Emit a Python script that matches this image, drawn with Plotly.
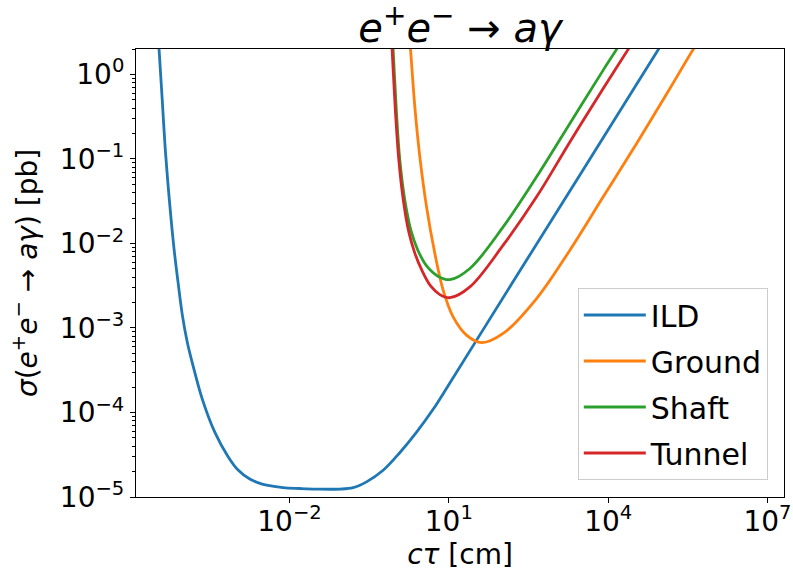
import plotly.graph_objects as go

# ---- data (ctau in cm, sigma in pb) ----
ctau_ild = [2.97e-5, 3.50e-5, 4.02e-5, 4.58e-5, 5.45e-5, 6.71e-5, 7.98e-5, 9.66e-5, 1.19e-4,
            1.53e-4, 2.28e-4, 3.92e-4, 6.89e-4, 1.063e-3, 1.79e-3, 2.53e-3, 3.69e-3, 7.57e-3,
            1.56e-2, 3.22e-2, 8.85e-2, 0.158, 0.282, 0.579, 1.19, 2.47, 5.06, 9.70, 33.3,
            316.0, 3162.0, 3.16e4, 3.16e5]
sigma_ild = [10.0, 1.98, 0.497, 0.131, 0.0334, 8.57e-3, 3.46e-3, 1.39e-3, 6.79e-4,
             3.56e-4, 1.44e-4, 5.85e-5, 3.04e-5, 2.10e-5, 1.63e-5, 1.48e-5, 1.38e-5, 1.29e-5,
             1.26e-5, 1.24e-5, 1.24e-5, 1.29e-5, 1.51e-5, 2.07e-5, 3.34e-5, 5.85e-5, 1.09e-4, 2.07e-4, 7.18e-4,
             6.90e-3, 6.98e-2, 0.706, 7.14]

ctau_ground = [1.563, 1.900, 2.289, 2.844, 3.802, 5.45, 7.81, 12.05, 21.5, 41.3,
               105.4, 448.7, 1901.0, 8054.0, 3.43e4, 1.452e5, 3.99e5, 1.585e6]
sigma_ground = [10.0, 1.98, 0.414, 0.1059, 0.0271, 7.62e-3, 2.80e-3, 1.35e-3, 8.22e-4, 6.70e-4,
                8.61e-4, 2.23e-3, 8.33e-3, 0.0356, 0.1526, 0.683, 1.98, 7.94]

ctau_shaft = [0.778, 0.893, 1.026, 1.194, 1.484, 1.925, 2.608, 3.853, 6.21, 10.44,
              24.9, 105.4, 448.7, 1901.0, 8054.0, 1.439e4, 6.31e4]
sigma_shaft = [10.0, 1.98, 0.378, 0.0968, 0.0325, 0.01436, 8.32e-3, 5.38e-3, 4.10e-3, 3.73e-3,
               5.06e-3, 0.0157, 0.0614, 0.263, 1.125, 1.98, 8.71]

ctau_tunnel = [0.745, 0.855, 0.983, 1.144, 1.390, 1.765, 2.289, 3.101, 4.58, 6.77, 10.44,
               24.9, 105.4, 448.7, 1901.0, 8054.0, 2.38e4, 1.0e5]
sigma_tunnel = [10.0, 1.98, 0.378, 0.0968, 0.0325, 0.0136, 7.68e-3, 4.83e-3, 3.12e-3, 2.48e-3, 2.28e-3,
                3.06e-3, 9.55e-3, 0.0356, 0.159, 0.682, 1.98, 8.32]

series_names = ["ILD", "Ground", "Shaft", "Tunnel"]
series_colors = ["#1f77b4", "#ff7f0e", "#2ca02c", "#d62728"]

x_tick_vals = [1e-2, 1e1, 1e4, 1e7]
x_tick_text = ["10<sup>−2</sup>", "10<sup>1</sup>", "10<sup>4</sup>", "10<sup>7</sup>"]
y_tick_vals = [1e-5, 1e-4, 1e-3, 1e-2, 1e-1, 1e0]
y_tick_text = ["10<sup>−5</sup>", "10<sup>−4</sup>", "10<sup>−3</sup>",
               "10<sup>−2</sup>", "10<sup>−1</sup>", "10<sup>0</sup>"]
y_minor_vals = [k * 10.0 ** e for e in range(-5, 1) for k in range(2, 10)]

FONT = "DejaVu Sans"

fig = go.Figure()
data = [(ctau_ild, sigma_ild), (ctau_ground, sigma_ground),
        (ctau_shaft, sigma_shaft), (ctau_tunnel, sigma_tunnel)]
for name, color, (xs, ys) in zip(series_names, series_colors, data):
    fig.add_trace(go.Scatter(
        x=xs, y=ys, mode="lines", name=name, legendgroup=name,
        line=dict(color=color, width=2.8, shape="spline", smoothing=1.0),
    ))

axis_common = dict(
    type="log", showgrid=False, zeroline=False, automargin=False,
    showline=True, linecolor="black", linewidth=1.1, mirror=True,
    ticks="outside", ticklen=5, tickwidth=1.1, tickcolor="black",
    tickfont=dict(family=FONT, size=28, color="black"),
)

fig.update_layout(
    width=793, height=574,
    margin=dict(l=136, r=9, t=49, b=77, autoexpand=False),
    paper_bgcolor="white", plot_bgcolor="white",
    font=dict(family=FONT, color="black"),
    title=dict(
        text="<i>e</i><sup>+</sup><i>e</i><sup>−</sup> → <i>aγ</i>",
        x=0.5, xref="paper", xanchor="center",
        y=1 - 28 / 574, yref="container", yanchor="middle",
        font=dict(family=FONT, size=40, color="black"),
    ),
    xaxis=dict(
        axis_common, range=[-4.89, 7.31],
        tickmode="array", tickvals=x_tick_vals, ticktext=x_tick_text,
        ticklabelstandoff=-6,
        title=dict(text="<i>cτ</i> [cm]", font=dict(family=FONT, size=28), standoff=4),
    ),
    yaxis=dict(
        axis_common, range=[-5, 0.301],
        tickmode="array", tickvals=y_tick_vals, ticktext=y_tick_text,
        minor=dict(tickmode="array", tickvals=y_minor_vals, ticks="outside",
                   ticklen=3, tickwidth=1, tickcolor="black", showgrid=False),
        title=dict(text="<i>σ</i>(<i>e</i><sup>+</sup><i>e</i><sup>−</sup> → <i>aγ</i>) [pb]",
                   font=dict(family=FONT, size=28), standoff=14),
    ),
    legend=dict(
        x=0.975, xanchor="right", y=0.038, yanchor="bottom",
        font=dict(family=FONT, size=30, color="black"),
        bgcolor="rgba(255,255,255,0.8)", bordercolor="#cccccc", borderwidth=1,
        tracegroupgap=4, itemwidth=62,
    ),
)

fig.write_html("out.html", config={"displayModeBar": False},
               post_script="document.body.style.margin='0px';")
